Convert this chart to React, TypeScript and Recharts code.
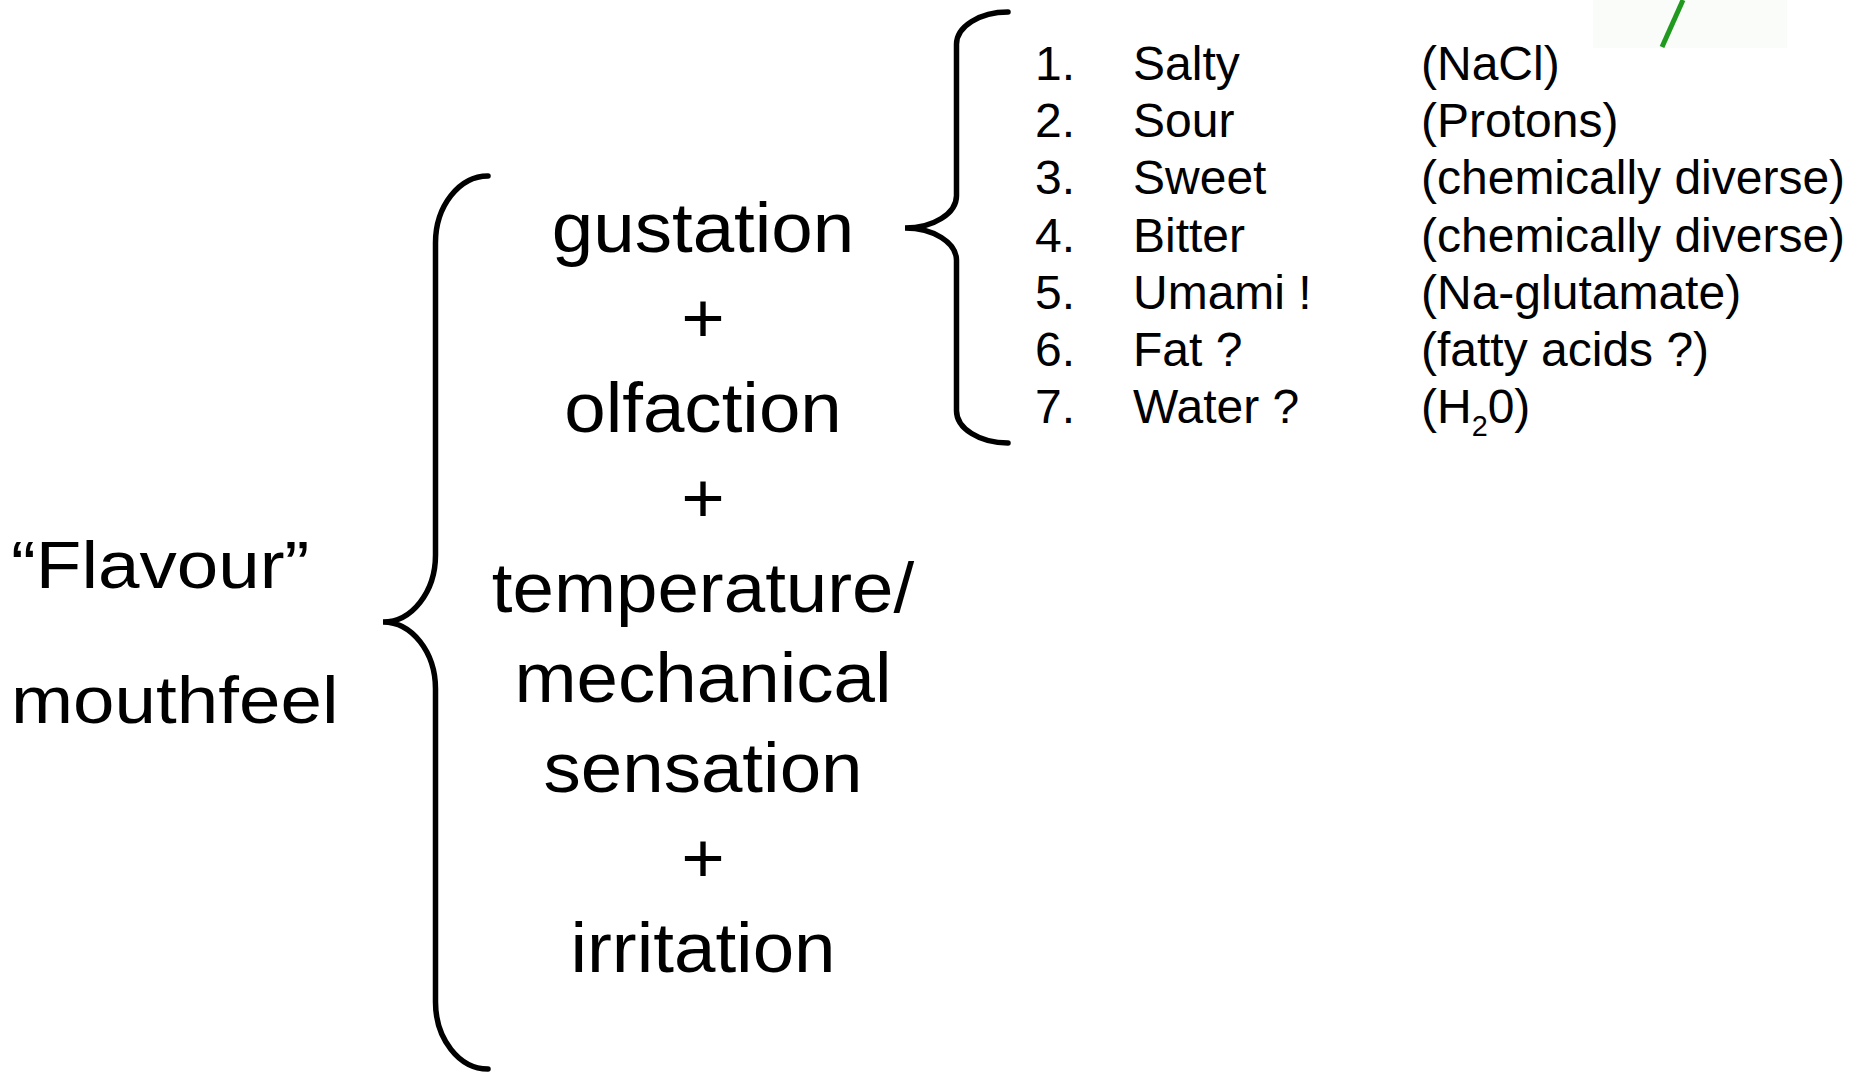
import { ScatterChart, Scatter, XAxis, YAxis, ReferenceArea } from 'recharts';

const W = 1855;
const H = 1072;
const FONT = '"Liberation Sans", Arial, Helvetica, sans-serif';

// taste list (right)
const tasteNumbers = ['1.', '2.', '3.', '4.', '5.', '6.', '7.'];
const tasteNames = ['Salty', 'Sour', 'Sweet', 'Bitter', 'Umami !', 'Fat ?', 'Water ?'];
const tasteSources = ['(NaCl)', '(Protons)', '(chemically diverse)', '(chemically diverse)', '(Na-glutamate)', '(fatty acids ?)', '(H₂0)'];

// centre column
const components = ['gustation', '+', 'olfaction', '+', 'temperature/', 'mechanical', 'sensation', '+', 'irritation'];

// left labels
const sideLabels = ['“Flavour”', 'mouthfeel'];

// brace extents on the page: top end, tip, bottom end
const tasteBraceY = [12, 228, 443];
const mainBraceY = [176, 622, 1069];

// layout (page px)
const COL = { num: 1035, name: 1133, source: 1421, centre: 703, side: 11 };
const BRACE_X = { taste: { tip: 905, end: 1008 }, main: { tip: 383, end: 488 } };

type Pt = { x: number; y: number };

const bracePath = (pts: Pt[]) => {
  const [a, t, b] = pts;
  const ex = a.x;
  const tx = t.x;
  const sx = (ex + tx) / 2;
  const rx = ex - sx;
  const ry = 0.075 * (b.y - a.y);
  return [
    `M${ex},${a.y}`,
    `C${ex - rx * 0.55},${a.y} ${sx},${a.y + ry * 0.45} ${sx},${a.y + ry}`,
    `L${sx},${t.y - ry}`,
    `C${sx},${t.y - ry * 0.45} ${sx - rx * 0.45},${t.y} ${tx},${t.y}`,
    `C${sx - rx * 0.45},${t.y} ${sx},${t.y + ry * 0.45} ${sx},${t.y + ry}`,
    `L${sx},${b.y - ry}`,
    `C${sx},${b.y - ry * 0.45} ${ex - rx * 0.55},${b.y} ${ex},${b.y}`,
  ].join(' ');
};

const renderLabel = (label: string, size: number) => {
  if (!label.includes('₂')) return label;
  const [pre, post] = label.split('₂');
  return (
    <>
      {pre}
      <tspan fontSize={size * 0.6} dy={size * 0.28}>2</tspan>
      <tspan dy={-size * 0.28}>{post}</tspan>
    </>
  );
};

const textShape = (size: number, anchor: 'start' | 'middle', sx = 1) => (props: any) => {
  const { cx, cy, payload } = props;
  return (
    <text
      transform={`translate(${cx},${cy}) scale(${sx},1)`}
      x={0}
      y={0}
      textAnchor={anchor}
      fontSize={size}
      fontFamily={FONT}
      fill="#000"
    >
      {renderLabel(payload.label, size)}
    </text>
  );
};

const noDot = () => <g />;

const braceLine = (props: any) => (
  <path d={bracePath(props.points)} fill="none" stroke="#000" strokeWidth={5.5} strokeLinecap="round" />
);

const greenLine = (props: any) => {
  const [p, q] = props.points;
  return <path d={`M${p.x},${p.y} L${q.x},${q.y}`} stroke="#1f9a1f" strokeWidth={5} fill="none" />;
};

export default function App() {
  const numData = tasteNumbers.map((label, i) => ({ x: COL.num, y: i, label }));
  const nameData = tasteNames.map((label, i) => ({ x: COL.name, y: i, label }));
  const sourceData = tasteSources.map((label, i) => ({ x: COL.source, y: i, label }));
  const centreData = components.map((label, i) => ({ x: COL.centre, y: i, label }));
  const sideData = sideLabels.map((label, i) => ({ x: COL.side, y: i, label }));

  const tasteBrace = tasteBraceY.map((y, i) => ({ x: i === 1 ? BRACE_X.taste.tip : BRACE_X.taste.end, y }));
  const mainBrace = mainBraceY.map((y, i) => ({ x: i === 1 ? BRACE_X.main.tip : BRACE_X.main.end, y }));
  const stroke = [{ x: 1683, y: 0 }, { x: 1662, y: 47 }];

  return (
    <div style={{ position: 'absolute', left: 0, top: 0, width: W, height: H, background: '#fff' }}>
      <ScatterChart width={W} height={H} margin={{ top: 0, right: 0, bottom: 0, left: 0 }}>
        <XAxis xAxisId="page" type="number" dataKey="x" domain={[0, W]} hide />
        <YAxis yAxisId="page" type="number" dataKey="y" domain={[0, H]} reversed hide />
        <YAxis yAxisId="taste" type="number" dataKey="y" domain={[0, 6]} reversed hide padding={{ top: 80, bottom: H - 423 }} />
        <YAxis yAxisId="centre" type="number" dataKey="y" domain={[0, 8]} reversed hide padding={{ top: 252, bottom: H - 972 }} />
        <YAxis yAxisId="side" type="number" dataKey="y" domain={[0, 1]} reversed hide padding={{ top: 588, bottom: H - 723 }} />

        <ReferenceArea xAxisId="page" yAxisId="page" x1={1593} x2={1787} y1={0} y2={48} fill="#fafcfa" fillOpacity={1} stroke="none" />
        <Scatter xAxisId="page" yAxisId="page" data={stroke} shape={noDot} line={greenLine} lineType="joint" isAnimationActive={false} />

        <Scatter xAxisId="page" yAxisId="page" data={tasteBrace} shape={noDot} line={braceLine} lineType="joint" isAnimationActive={false} />
        <Scatter xAxisId="page" yAxisId="page" data={mainBrace} shape={noDot} line={braceLine} lineType="joint" isAnimationActive={false} />

        <Scatter xAxisId="page" yAxisId="taste" data={numData} shape={textShape(48, 'start')} isAnimationActive={false} />
        <Scatter xAxisId="page" yAxisId="taste" data={nameData} shape={textShape(48, 'start')} isAnimationActive={false} />
        <Scatter xAxisId="page" yAxisId="taste" data={sourceData} shape={textShape(48, 'start')} isAnimationActive={false} />
        <Scatter xAxisId="page" yAxisId="centre" data={centreData} shape={textShape(71, 'middle', 1.05)} isAnimationActive={false} />
        <Scatter xAxisId="page" yAxisId="side" data={sideData} shape={textShape(66, 'start', 1.13)} isAnimationActive={false} />
      </ScatterChart>
    </div>
  );
}
